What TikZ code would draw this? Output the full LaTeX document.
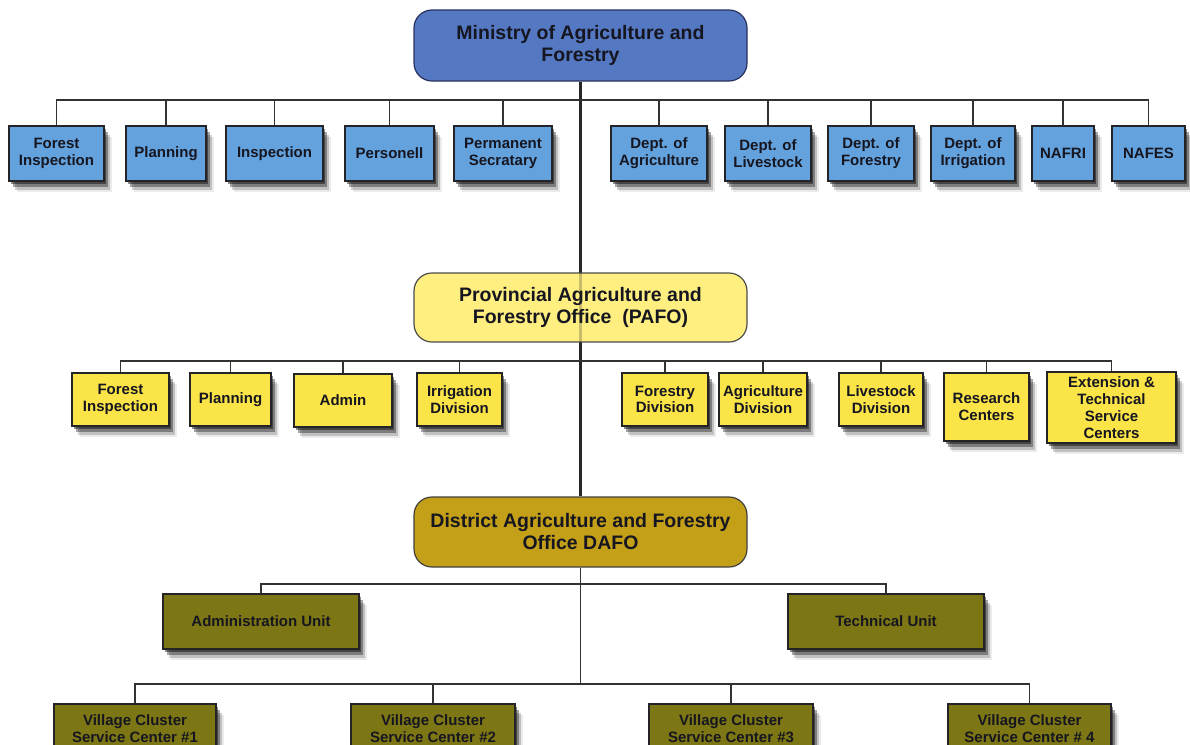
\documentclass[tikz,border=0pt]{standalone}
\usepackage{fontspec}
\setmainfont{Liberation Sans}
\usetikzlibrary{shadows,backgrounds}
\definecolor{mincol}{RGB}{85,120,195}
\definecolor{minbd}{RGB}{40,50,95}
\definecolor{bluebx}{RGB}{100,162,222}
\definecolor{pafocol}{RGB}{255,238,128}
\definecolor{yelbx}{RGB}{250,228,72}
\definecolor{dafocol}{RGB}{196,160,25}
\definecolor{olivebx}{RGB}{125,118,20}
\definecolor{txtc}{RGB}{22,22,32}
\definecolor{bdr}{RGB}{35,35,40}
\definecolor{linec}{RGB}{50,50,50}
\tikzset{
  mainbox/.style={draw=#1, line width=1.2pt, rounded corners=18pt, minimum width=333pt,
    inner sep=0pt, align=center, text=txtc,
    font=\fontsize{19.5}{22}\selectfont\bfseries},
  shd/.style={drop shadow={shadow xshift=2pt,shadow yshift=-3pt,opacity=.45,fill=black},
    drop shadow={shadow xshift=4pt,shadow yshift=-6pt,opacity=.35,fill=black},
    drop shadow={shadow xshift=6pt,shadow yshift=-9pt,opacity=.18,fill=black},
    drop shadow={shadow xshift=8pt,shadow yshift=-11pt,opacity=.08,fill=black}},
  subbox/.style={shd, draw=bdr, line width=1.3pt, inner sep=0pt, align=center, text=txtc,
    font=\fontsize{15}{16.8}\selectfont\bfseries},
  bluesub/.style={subbox, fill=bluebx, minimum height=55pt},
  yelsub/.style={subbox, fill=yelbx, minimum height=53pt},
  olsub/.style={subbox, fill=olivebx},
  conn/.style={draw=linec, line width=1.8pt},
  trunk/.style={draw=black!85, line width=3pt},
}
\begin{document}
\begin{tikzpicture}[x=1pt,y=-1pt]
\useasboundingbox (0,0) rectangle (1190,744);
\clip (0,0) rectangle (1190,744);

% main boxes
\node[mainbox=minbd, fill=mincol, minimum height=71pt] (min) at (580.5,45.5) {Ministry of Agriculture and\\Forestry};
\node[mainbox=black!70, fill=pafocol, minimum height=69pt] (pafo) at (580.5,307.5) {Provincial Agriculture and\\Forestry Office\ \ (PAFO)};
\node[mainbox=black!75, fill=dafocol, minimum height=70pt] (dafo) at (580.5,532) {District Agriculture and Forestry\\Office DAFO};

% bus coordinates
\coordinate (b1) at (580.5,100);
\coordinate (b2) at (580.5,361);
\coordinate (b3) at (580.5,584);
\coordinate (b4) at (580.5,684);

% ministry level
\node[bluesub, minimum width=95pt] (fi1) at (56.5,153.5) {Forest\\Inspection};
\node[bluesub, minimum width=80pt] (pl1) at (166,153.5) {Planning};
\node[bluesub, minimum width=97pt] (in1) at (274.5,153.5) {Inspection};
\node[bluesub, minimum width=89pt] (pe1) at (389.5,153.5) {Personell};
\node[bluesub, minimum width=98pt] (ps1) at (503,153.5) {Permanent\\Secratary};
\node[bluesub, minimum width=96pt] (da) at (659,153.5) {Dept. of\\Agriculture};
\node[bluesub, minimum width=86pt] (dl) at (768,153.5) {Dept. of\\Livestock};
\node[bluesub, minimum width=86pt] (df) at (871,153.5) {Dept. of\\Forestry};
\node[bluesub, minimum width=84pt] (di) at (973,153.5) {Dept. of\\Irrigation};
\node[bluesub, minimum width=62pt] (nafri) at (1063,153.5) {NAFRI};
\node[bluesub, minimum width=73pt] (nafes) at (1148.5,153.5) {NAFES};

% provincial level
\node[yelsub, minimum width=97pt] (fi2) at (120.5,399.5) {Forest\\Inspection};
\node[yelsub, minimum width=81pt] (pl2) at (230.5,399.5) {Planning};
\node[yelsub, minimum width=98pt] (ad2) at (343,400.5) {Admin};
\node[yelsub, minimum width=85pt] (ir2) at (459.5,399.5) {Irrigation\\Division};
\node[yelsub, minimum width=86pt] (fd) at (665,399.5) {Forestry\\Division};
\node[yelsub, minimum width=88pt] (ag) at (763,399.5) {Agriculture\\Division};
\node[yelsub, minimum width=84pt] (ld) at (881,399.5) {Livestock\\Division};
\node[yelsub, minimum width=85pt, minimum height=68pt] (rc) at (986.5,407) {Research\\Centers};
\node[yelsub, minimum width=129pt, minimum height=71pt] (ext) at (1111.5,407.5) {Extension \&\\Technical\\Service\\Centers};

% district level
\node[olsub, minimum width=196pt, minimum height=55pt] (adm) at (261,621.5) {Administration Unit};
\node[olsub, minimum width=196pt, minimum height=55pt] (tech) at (886,621.5) {Technical Unit};
\node[olsub, minimum width=162pt, minimum height=50pt] (v1) at (135,729) {Village Cluster\\Service Center \#1};
\node[olsub, minimum width=164pt, minimum height=50pt] (v2) at (433,729) {Village Cluster\\Service Center \#2};
\node[olsub, minimum width=164pt, minimum height=50pt] (v3) at (731,729) {Village Cluster\\Service Center \#3};
\node[olsub, minimum width=163pt, minimum height=50pt] (v4) at (1029.5,729) {Village Cluster\\Service Center \# 4};

\begin{scope}[on background layer]
  \fill[white] (0,0) rectangle (1190,744);
  \draw[trunk] (min.south) -- (dafo.north);
  \foreach \n in {fi1,pl1,in1,pe1,ps1,da,dl,df,di,nafri,nafes} {\draw[conn] (\n.north) |- (b1);}
  \foreach \n in {fi2,pl2,ad2,ir2,fd,ag,ld,rc,ext} {\draw[conn] (\n.north) |- (b2);}
  \foreach \n in {adm,tech} {\draw[conn] (\n.north) |- (b3);}
  \draw[conn] (dafo.south) -- (b4);
  \foreach \n in {v1,v2,v3,v4} {\draw[conn] (\n.north) |- (b4);}
\end{scope}
% faint trunk seen through the PAFO box
\draw[trunk, opacity=.25] (pafo.north) -- (pafo.south);
\end{tikzpicture}
\end{document}
